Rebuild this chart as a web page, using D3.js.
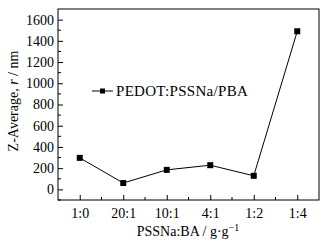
<!DOCTYPE html>
<html>
<head>
<meta charset="utf-8">
<script src="https://cdn.jsdelivr.net/npm/d3@7"></script>
<style>
  body { margin: 0; background: #fff; }
</style>
</head>
<body>
<svg id="chart" width="324" height="247" font-family="'Times New Roman', 'Liberation Serif', 'DejaVu Serif', serif"></svg>
<script>
const categories = ["1:0", "20:1", "10:1", "4:1", "1:2", "1:4"];
const zAverage = [297, 60, 184, 228, 128, 1490];
const yTicks = [0, 200, 400, 600, 800, 1000, 1200, 1400, 1600];
const seriesName = "PEDOT:PSSNa/PBA";

const margin = {left: 58, top: 9, right: 5, bottom: 47};
const width = 324, height = 247;
const svg = d3.select("#chart");

const x = d3.scaleLinear().domain([-0.5, categories.length - 0.5])
  .range([margin.left, width - margin.right]);
const y = d3.scaleLinear().domain([-100, 1700])
  .range([height - margin.bottom, margin.top]);

// frame
svg.append("rect")
  .attr("x", margin.left).attr("y", margin.top)
  .attr("width", x.range()[1] - x.range()[0])
  .attr("height", y.range()[0] - y.range()[1])
  .attr("fill", "none").attr("stroke", "#000").attr("stroke-width", 1);

// y axis, ticks inside
const yAxis = svg.append("g").attr("class", "yAxis")
  .attr("transform", "translate(" + margin.left + ",0)")
  .call(d3.axisLeft(y).tickValues(yTicks).tickFormat(d3.format("d"))
    .tickSizeInner(-5).tickSizeOuter(0).tickPadding(4));
yAxis.attr("font-family", null).attr("font-size", 14);
yAxis.select(".domain").remove();
yAxis.selectAll("text").attr("x", -4);
// minor y ticks
svg.append("g").selectAll("line")
  .data(d3.range(-100, 1700, 200))
  .join("line")
  .attr("x1", margin.left).attr("x2", margin.left + 3)
  .attr("y1", d => y(d)).attr("y2", d => y(d))
  .attr("stroke", "#000");

// x axis, ticks inside
const xAxis = svg.append("g").attr("class", "xAxis")
  .attr("transform", "translate(0," + (height - margin.bottom) + ")")
  .call(d3.axisBottom(x).tickValues(d3.range(categories.length))
    .tickFormat(i => categories[i]).tickSizeInner(-5).tickSizeOuter(0).tickPadding(8));
xAxis.attr("font-family", null).attr("font-size", 14);
xAxis.select(".domain").remove();
svg.append("g").selectAll("line")
  .data(d3.range(-0.5, categories.length, 1).slice(1, categories.length))
  .join("line")
  .attr("x1", d => x(d)).attr("x2", d => x(d))
  .attr("y1", height - margin.bottom).attr("y2", height - margin.bottom - 3)
  .attr("stroke", "#000");

// line + markers
const line = d3.line().x((d, i) => x(i)).y(d => y(d));
svg.append("path").datum(zAverage)
  .attr("d", line).attr("fill", "none").attr("stroke", "#000").attr("stroke-width", 1);
svg.append("g").selectAll("rect")
  .data(zAverage)
  .join("rect")
  .attr("x", (d, i) => x(i) - 3).attr("y", d => y(d) - 3)
  .attr("width", 6).attr("height", 6).attr("fill", "#000");

// legend
const lg = svg.append("g").attr("transform", "translate(92,91)");
lg.append("line").attr("x1", 0).attr("x2", 21).attr("stroke", "#000");
lg.append("rect").attr("x", 8).attr("y", -2.5).attr("width", 5).attr("height", 5).attr("fill", "#000");
lg.append("text").attr("x", 24).attr("y", 5).attr("font-size", 15).attr("letter-spacing", 0.3).text(seriesName);

// axis titles
const yt = svg.append("text")
  .attr("transform", "translate(18,101) rotate(-90)")
  .attr("text-anchor", "middle").attr("font-size", 14);
yt.append("tspan").text("Z-Average, ");
yt.append("tspan").attr("font-style", "italic").text("r");
yt.append("tspan").text(" / nm");

const xt = svg.append("text")
  .attr("x", 188).attr("y", 236)
  .attr("text-anchor", "middle").attr("font-size", 14);
xt.append("tspan").text("PSSNa:BA / g\u00B7g");
xt.append("tspan").attr("dy", -5).attr("font-size", 10).text("\u22121");
</script>
</body>
</html>
